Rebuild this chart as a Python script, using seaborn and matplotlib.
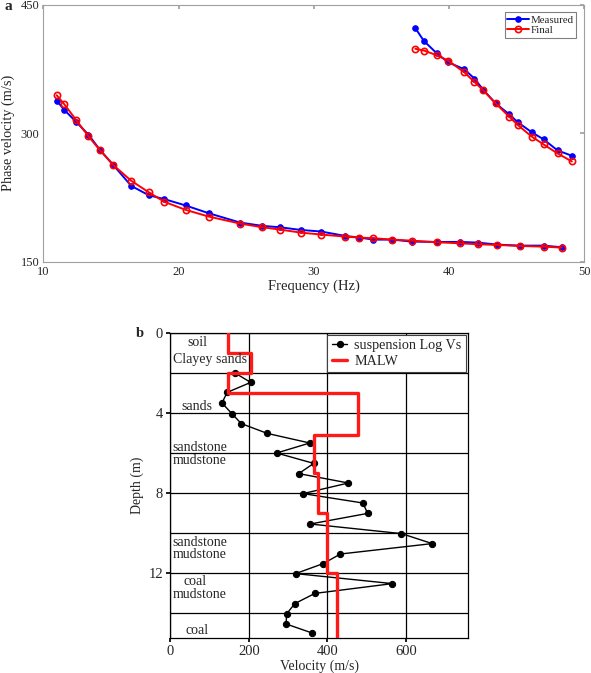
import matplotlib
matplotlib.use("Agg")
import matplotlib.pyplot as plt
import seaborn as sns
import numpy as np

# ---- panel a: dispersion curves ----
freq_low = [10.98, 11.54, 12.43, 13.33, 14.17, 15.17, 16.49, 17.78, 18.95, 20.52,
            22.22, 24.55, 26.20, 27.51, 29.02, 30.56, 32.32, 33.38, 34.42, 35.82,
            37.24, 39.09, 40.80, 42.17, 43.57, 45.24, 47.01, 48.35]
meas_low = [338.2, 327.3, 313.2, 298.4, 280.9, 263.0, 238.8, 227.9, 223.3, 215.9,
            206.9, 196.0, 192.1, 190.5, 187.4, 185.5, 180.4, 178.5, 176.1, 176.1,
            173.8, 173.4, 173.4, 172.6, 170.3, 169.1, 169.1, 167.2]
final_low = [344.4, 333.9, 315.2, 296.5, 280.5, 263.0, 244.7, 231.4, 220.1, 210.8,
             203.0, 194.8, 190.5, 187.8, 184.3, 182.0, 179.6, 178.5, 177.7, 176.1,
             174.9, 173.0, 171.8, 170.7, 169.9, 168.7, 167.9, 166.8]

freq_high = [37.52, 38.14, 39.09, 39.93, 41.13, 41.89, 42.53, 43.45, 44.46, 45.10,
             46.14, 47.01, 48.04, 49.10]
meas_high = [422.7, 407.9, 393.5, 383.0, 374.8, 363.9, 351.0, 335.1, 322.2, 312.9,
             301.2, 293.0, 280.1, 273.9]
final_high = [398.6, 396.6, 391.2, 384.9, 371.3, 360.0, 350.3, 335.1, 319.5, 309.7,
              296.1, 287.1, 276.6, 267.3]

# ---- panel b: velocity profile ----
log_vel = [165, 205, 145, 132, 157, 181, 247, 355, 271, 365, 327, 453, 338, 490,
           502, 356, 588, 666, 433, 389, 319, 565, 368, 317, 296, 295, 361]
log_depth = [2.0, 2.47, 2.97, 3.5, 4.03, 4.53, 5.02, 5.5, 6.0, 6.52, 7.03, 7.5, 8.03,
             8.5, 9.02, 9.55, 10.03, 10.53, 11.05, 11.53, 12.03, 12.53, 13.02, 13.53,
             14.05, 14.55, 15.0]

layer_top = [0, 1, 2, 3, 5.1, 7, 9, 12]
layer_bottom = [1, 2, 3, 5.1, 7, 9, 12, 15.25]
layer_vs = [146, 205, 146, 478, 365, 377, 400, 425]

strata_labels = ["soil", "Clayey sands", "sands", "sandstone", "mudstone",
                 "sandstone", "mudstone", "coal", "mudstone", "coal"]
strata_vel = [70, 101, 69, 76, 76, 76, 76, 64, 76, 68]
strata_depth = [0.48, 1.33, 3.68, 5.72, 6.38, 10.48, 11.08, 12.4, 13.05, 14.87]

sns.set_theme(style="white")
plt.rcParams["font.family"] = ["Liberation Serif", "DejaVu Serif"]

fig = plt.figure(figsize=(5.91, 6.73), dpi=100)

# panel a
ax1 = fig.add_axes([0.0736, 0.6107, 0.9146, 0.3823])
sns.lineplot(x=freq_low, y=meas_low, ax=ax1, color="#0000ff", marker="o",
             markersize=4, markeredgecolor="#0000ff", linewidth=1.4,
             sort=False, estimator=None, label="Measured")
sns.lineplot(x=freq_high, y=meas_high, ax=ax1, color="#0000ff", marker="o",
             markersize=4, markeredgecolor="#0000ff", linewidth=1.4,
             sort=False, estimator=None)
sns.lineplot(x=freq_low, y=final_low, ax=ax1, color="#ff0000", marker="o",
             markersize=4.5, markerfacecolor="none", markeredgecolor="#ff0000",
             markeredgewidth=1.2, linewidth=1.4, sort=False, estimator=None,
             label="Final")
sns.lineplot(x=freq_high, y=final_high, ax=ax1, color="#ff0000", marker="o",
             markersize=4.5, markerfacecolor="none", markeredgecolor="#ff0000",
             markeredgewidth=1.2, linewidth=1.4, sort=False, estimator=None)
ax1.set_xlim(10, 50)
ax1.set_ylim(150, 450)
ax1.set_xticks([10, 20, 30, 40, 50])
ax1.set_yticks([150, 300, 450])
ax1.tick_params(direction="in", top=True, right=True, length=3, color="#a0a0a0",
                labelsize=9, pad=3)
for sp in ax1.spines.values():
    sp.set_color("#a0a0a0")
    sp.set_linewidth(0.8)
ax1.set_xlabel("Frequency (Hz)", fontsize=10.5, labelpad=1)
ax1.set_ylabel("Phase velocity (m/s)", fontsize=10.3, labelpad=4)
leg = ax1.legend(loc="upper right", fontsize=7.8, frameon=True, fancybox=False,
                 borderpad=0.25, handlelength=2.0, handletextpad=0.15,
                 labelspacing=0.1, borderaxespad=0.7)
leg.get_frame().set_edgecolor("#606060")
leg.get_frame().set_linewidth(0.8)
fig.text(0.0147, 0.991, "a", fontsize=11, fontweight="bold", ha="center", va="center")

# panel b
ax2 = fig.add_axes([0.2877, 0.052, 0.5042, 0.4532])
step_vel = np.repeat(layer_vs, 2)
step_depth = np.column_stack([layer_top, layer_bottom]).ravel()
sns.lineplot(x=log_vel, y=log_depth, ax=ax2, color="black", marker="o",
             markersize=4.5, markeredgecolor="black", linewidth=1.0,
             sort=False, estimator=None, label="suspension Log Vs", zorder=3)
sns.lineplot(x=step_vel, y=step_depth, ax=ax2, color="#ff1a1a", linewidth=2.4,
             sort=False, estimator=None, label="MALW", zorder=4)
for txt, xv, yv in zip(strata_labels, strata_vel, strata_depth):
    ax2.text(xv, yv, txt, fontsize=10, ha="center", va="center", zorder=5)
ax2.set_xlim(0, 757)
ax2.set_ylim(15.25, 0)
ax2.set_xticks([0, 200, 400, 600])
ax2.set_yticks([0, 4, 8, 12])
ax2.set_yticks([2, 6, 10, 14], minor=True)
ax2.grid(True, which="both", color="black", linewidth=0.9)
ax2.set_axisbelow(True)
ax2.tick_params(axis="both", which="major", direction="out", length=3,
                color="black", labelsize=10.5, left=True, bottom=True, pad=2)
ax2.tick_params(axis="y", which="minor", left=False)
for sp in ax2.spines.values():
    sp.set_color("black")
    sp.set_linewidth(0.9)
ax2.set_xlabel("Velocity (m/s)", fontsize=10, labelpad=1)
ax2.set_ylabel("Depth (m)", fontsize=10, labelpad=3)
leg2 = ax2.legend(loc="upper right", fontsize=10.2, frameon=True, fancybox=False,
                  borderpad=0.3, handlelength=1.1, handletextpad=0.5,
                  labelspacing=0.15, borderaxespad=0.15, framealpha=1)
leg2.get_frame().set_edgecolor("#404040")
leg2.get_frame().set_linewidth(0.8)
fig.text(0.2364, 0.5052, "b", fontsize=10.5, fontweight="bold", ha="center", va="center")

fig.savefig("out.png", dpi=100)
